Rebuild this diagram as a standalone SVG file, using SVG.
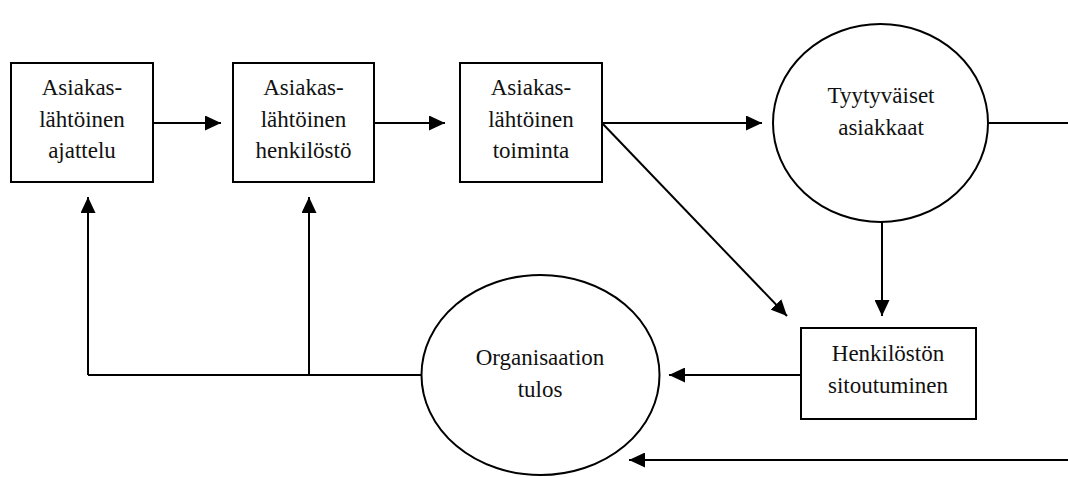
<svg xmlns="http://www.w3.org/2000/svg" width="1068" height="477" viewBox="0 0 1068 477">
<style>
.n{fill:#fff;stroke:#000;stroke-width:2}
.c{fill:none;stroke:#000;stroke-width:2}
.a{marker-end:url(#ah)}
</style>
<defs>
<marker id="ah" markerUnits="userSpaceOnUse" markerWidth="16" markerHeight="15" refX="16" refY="7.5" orient="auto">
<path d="M0,0 L16,7.5 L0,15 Z" fill="#000"/>
</marker>
</defs>
<rect width="1068" height="477" fill="#fff"/>
<g id="connectors">
<line class="c a" x1="153" y1="123" x2="221" y2="123"/>
<line class="c a" x1="374" y1="123" x2="445" y2="123"/>
<line class="c a" x1="602" y1="123" x2="762" y2="123"/>
<line class="c a" x1="602" y1="123" x2="787" y2="316"/>
<line class="c" x1="988" y1="123" x2="1068" y2="123"/>
<line class="c a" x1="882" y1="222" x2="882" y2="316"/>
<line class="c a" x1="801" y1="375" x2="669" y2="375"/>
<line class="c a" x1="1068" y1="460" x2="629" y2="460"/>
<polyline class="c" points="421,375 88,375"/>
<line class="c a" x1="88" y1="375" x2="88" y2="197"/>
<line class="c a" x1="309" y1="375" x2="309" y2="197"/>
</g>
<g id="n1">
<rect class="n" x="11" y="63" width="142" height="119"/>
<text font-family="Liberation Serif" font-size="23" text-anchor="middle" fill="#111" x="82" y="95">Asiakas-</text>
<text font-family="Liberation Serif" font-size="23" text-anchor="middle" fill="#111" x="82" y="127">lähtöinen</text>
<text font-family="Liberation Serif" font-size="23" text-anchor="middle" fill="#111" x="82" y="158">ajattelu</text>
</g>
<g id="n2">
<rect class="n" x="233" y="63" width="141" height="119"/>
<text font-family="Liberation Serif" font-size="23" text-anchor="middle" fill="#111" x="303.5" y="95">Asiakas-</text>
<text font-family="Liberation Serif" font-size="23" text-anchor="middle" fill="#111" x="303.5" y="127">lähtöinen</text>
<text font-family="Liberation Serif" font-size="23" text-anchor="middle" fill="#111" x="303.5" y="158">henkilöstö</text>
</g>
<g id="n3">
<rect class="n" x="460" y="63" width="142" height="119"/>
<text font-family="Liberation Serif" font-size="23" text-anchor="middle" fill="#111" x="531" y="95">Asiakas-</text>
<text font-family="Liberation Serif" font-size="23" text-anchor="middle" fill="#111" x="531" y="127">lähtöinen</text>
<text font-family="Liberation Serif" font-size="23" text-anchor="middle" fill="#111" x="531" y="158">toiminta</text>
</g>
<g id="n4">
<ellipse class="n" cx="880.5" cy="123" rx="107.5" ry="99"/>
<text font-family="Liberation Serif" font-size="23" text-anchor="middle" fill="#111" x="881" y="103">Tyytyväiset</text>
<text font-family="Liberation Serif" font-size="23" text-anchor="middle" fill="#111" x="881" y="135">asiakkaat</text>
</g>
<g id="n5">
<rect class="n" x="801" y="328" width="175" height="91"/>
<text font-family="Liberation Serif" font-size="23" text-anchor="middle" fill="#111" x="888" y="361">Henkilöstön</text>
<text font-family="Liberation Serif" font-size="23" text-anchor="middle" fill="#111" x="888" y="393">sitoutuminen</text>
</g>
<g id="n6">
<ellipse class="n" cx="540.5" cy="375" rx="119" ry="100"/>
<text font-family="Liberation Serif" font-size="23" text-anchor="middle" fill="#111" x="540" y="365">Organisaation</text>
<text font-family="Liberation Serif" font-size="23" text-anchor="middle" fill="#111" x="540" y="397">tulos</text>
</g>
</svg>
